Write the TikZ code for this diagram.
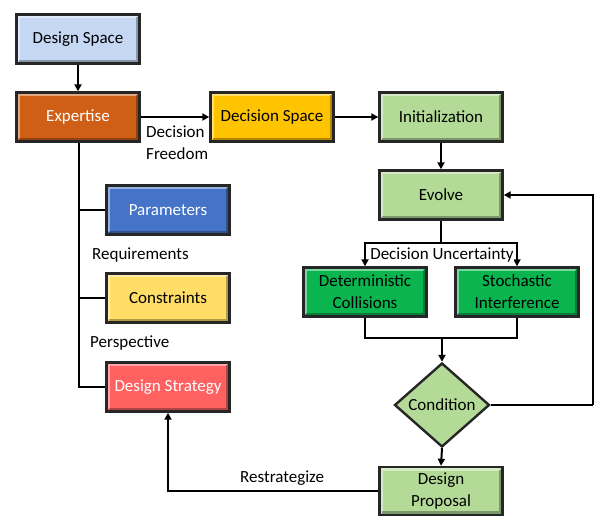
\documentclass[tikz,border=0pt]{standalone}
\usepackage{fontspec}
\setmainfont{Carlito}
\usetikzlibrary{shapes.geometric,arrows.meta,calc}
\definecolor{cDS}{HTML}{C5D7F2}
\definecolor{cExp}{HTML}{CF5F17}
\definecolor{cDec}{HTML}{FFC400}
\definecolor{cLG}{HTML}{B3DB97}
\definecolor{cG}{HTML}{0AB54F}
\definecolor{cPar}{HTML}{4473C8}
\definecolor{cCon}{HTML}{FFDD66}
\definecolor{cStr}{HTML}{FF6060}
\tikzset{
  txt/.style={font=\fontsize{17}{22}\selectfont},
  box/.style={draw=black!85, line width=2.4pt, minimum width=123pt, minimum height=49pt, inner sep=0pt, align=center, txt},
  bevel/.style={path picture={
    \draw[white, opacity=0.45, line width=2.5pt]
      ($(path picture bounding box.south west)+(2.5pt,2.5pt)$) |- ($(path picture bounding box.north east)+(-2.5pt,-2.5pt)$);
    \draw[black, opacity=0.3, line width=2.5pt]
      ($(path picture bounding box.south west)+(2.5pt,2.5pt)$) -| ($(path picture bounding box.north east)+(-2.5pt,-2.5pt)$);
  }},
  link/.style={line width=2pt, draw=black},
  arr/.style={link, -{Triangle[length=7pt,width=7pt]}},
  lbl/.style={txt, inner sep=0pt, align=left},
}
\begin{document}
\begin{tikzpicture}[x=1pt,y=-1pt]
\useasboundingbox (0,0) rectangle (595,516);
\node[box, bevel, fill=cDS] (dsp) at (78,39) {Design Space};
\node[box, bevel, fill=cExp, text=white] (exp) at (78,117) {Expertise};
\node[box, bevel, fill=cDec] (dec) at (272,117) {Decision Space};
\node[box, bevel, fill=cLG] (ini) at (441,117) {Initialization};
\node[box, bevel, fill=cLG] (evo) at (441,195) {Evolve};
\node[box, bevel, fill=cG] (det) at (365,292) {Deterministic\\Collisions};
\node[box, bevel, fill=cG] (sto) at (517,292) {Stochastic\\Interference};
\node[box, shape=diamond, fill=cLG, minimum width=95pt, minimum height=84pt, aspect=1.13] (cnd) at (442,405) {Condition};
\node[box, bevel, fill=cLG, minimum height=48pt] (pro) at (441,491) {Design\\Proposal};
\node[box, bevel, fill=cPar, text=white] (par) at (168,210) {Parameters};
\node[box, bevel, fill=cCon] (con) at (168,298) {Constraints};
\node[box, bevel, fill=cStr, text=white] (str) at (168,387) {Design Strategy};

\coordinate (split) at (441,243);
\coordinate (join) at (442,338);
\coordinate (rt) at (593,405);
\coordinate (tb) at (79,387);

\draw[arr] (dsp) -- (exp);
\draw[arr] (exp) -- (dec);
\draw[arr] (dec) -- (ini);
\draw[arr] (ini) -- (evo);
\draw[link] (evo.south) -- (split);
\draw[arr] (split) -| (det.north);
\draw[arr] (split) -| (sto.north);
\draw[link] (det.south) |- (join);
\draw[link] (sto.south) |- (join);
\draw[arr] (join) -- (cnd.north);
\draw[link] (cnd.east) -- (rt);
\draw[arr] (rt) |- (evo.east);
\draw[arr] (cnd.south) -- (pro.north);
\draw[arr] (pro.west) -| (str.south);
\draw[link] (exp.south -| tb) -- (tb) -- (str.west);
\draw[link] (tb |- par.west) -- (par.west);
\draw[link] (tb |- con.west) -- (con.west);

\node[lbl, anchor=north west] (df) at (146,126) {Decision\\Freedom};
\node[lbl, anchor=west] (rq) at (92,255) {Requirements};
\node[lbl, anchor=west] (pe) at (90,343) {Perspective};
\node[lbl, anchor=west] (rs) at (240,478) {Restrategize};
\node[lbl, fill=white, inner sep=0.5pt] (du) at (442,255) {Decision Uncertainty};
\end{tikzpicture}
\end{document}
